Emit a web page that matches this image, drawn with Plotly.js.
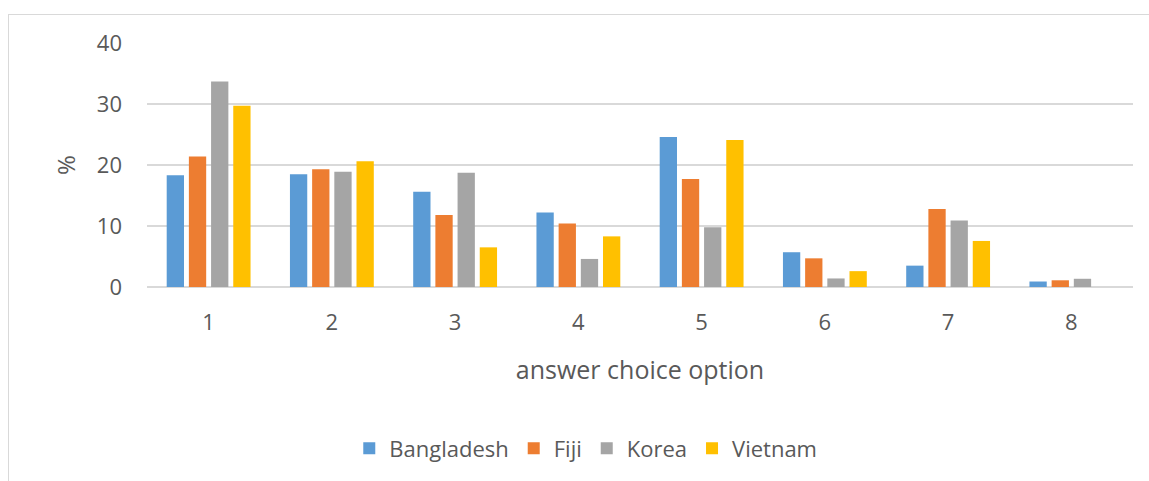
<!DOCTYPE html>
<html>
<head>
<meta charset="utf-8">
<script src="https://cdn.plot.ly/plotly-3.0.1.min.js"></script>
<style>
  html, body { margin: 0; padding: 0; background: #ffffff; }
  #wrap { position: relative; width: 1149px; height: 481px; overflow: hidden; }
  #frame { position: absolute; left: 8px; top: 14px; width: 1200px; height: 520px; border: 1px solid #d9d9d9; box-sizing: border-box; }
  #chart { position: absolute; left: 0; top: 0; width: 1149px; height: 481px; }
</style>
</head>
<body>
<div id="wrap">
  <div id="frame"></div>
  <div id="chart"></div>
</div>
<script>
const categories = ["1", "2", "3", "4", "5", "6", "7", "8"];
const seriesNames = ["Bangladesh", "Fiji", "Korea", "Vietnam"];
const bangladesh = [18.3, 18.5, 15.6, 12.2, 24.6, 5.7, 3.5, 0.9];
const fiji       = [21.4, 19.3, 11.8, 10.4, 17.7, 4.7, 12.8, 1.1];
const korea      = [33.7, 18.9, 18.75, 4.6, 9.8, 1.4, 10.9, 1.35];
const vietnam    = [29.7, 20.6, 6.5, 8.3, 24.1, 2.6, 7.55, null];
const yTicks = [0, 10, 20, 30, 40];
const colors = ["#5B9BD5", "#ED7D31", "#A5A5A5", "#FFC000"];

const values = [bangladesh, fiji, korea, vietnam];
const traces = seriesNames.map((name, i) => ({
  type: "bar",
  name: name,
  x: categories,
  y: values[i],
  marker: { color: colors[i], line: { width: 0 } },
  hoverinfo: "x+y+name"
}));

const font = "'Open Sans', 'Noto Sans', sans-serif";
const layout = {
  width: 1149,
  height: 481,
  margin: { l: 147, r: 16, t: 43, b: 191 },
  paper_bgcolor: "rgba(0,0,0,0)",
  plot_bgcolor: "rgba(0,0,0,0)",
  barmode: "group",
  bargap: 0.28,
  bargroupgap: 0.22,
  font: { family: font, color: "#595959", size: 22 },
  xaxis: {
    type: "category",
    showgrid: false,
    zeroline: false,
    showline: false,
    ticks: "",
    ticklabelstandoff: 20,
    tickfont: { family: font, size: 22, color: "#595959" },
    title: { text: "answer choice option", font: { family: font, size: 25, color: "#595959" }, standoff: 26 }
  },
  yaxis: {
    range: [0, 40],
    tickvals: yTicks,
    showgrid: true,
    gridcolor: "#d9d9d9",
    gridwidth: 2,
    zeroline: true,
    zerolinecolor: "#d9d9d9",
    zerolinewidth: 2,
    showline: false,
    ticks: "",
    ticklabelstandoff: 24,
    tickfont: { family: font, size: 22, color: "#595959" },
    title: { text: "%", font: { family: font, size: 24, color: "#595959" }, standoff: 14 }
  },
  showlegend: true,
  legend: {
    orientation: "h",
    x: 0.445,
    xanchor: "center",
    y: -0.662,
    yanchor: "middle",
    font: { family: font, size: 22, color: "#595959" },
    bgcolor: "rgba(0,0,0,0)",
    itemclick: false,
    itemdoubleclick: false
  }
};

Plotly.newPlot("chart", traces, layout, { displayModeBar: false, staticPlot: true });
</script>
</body>
</html>
